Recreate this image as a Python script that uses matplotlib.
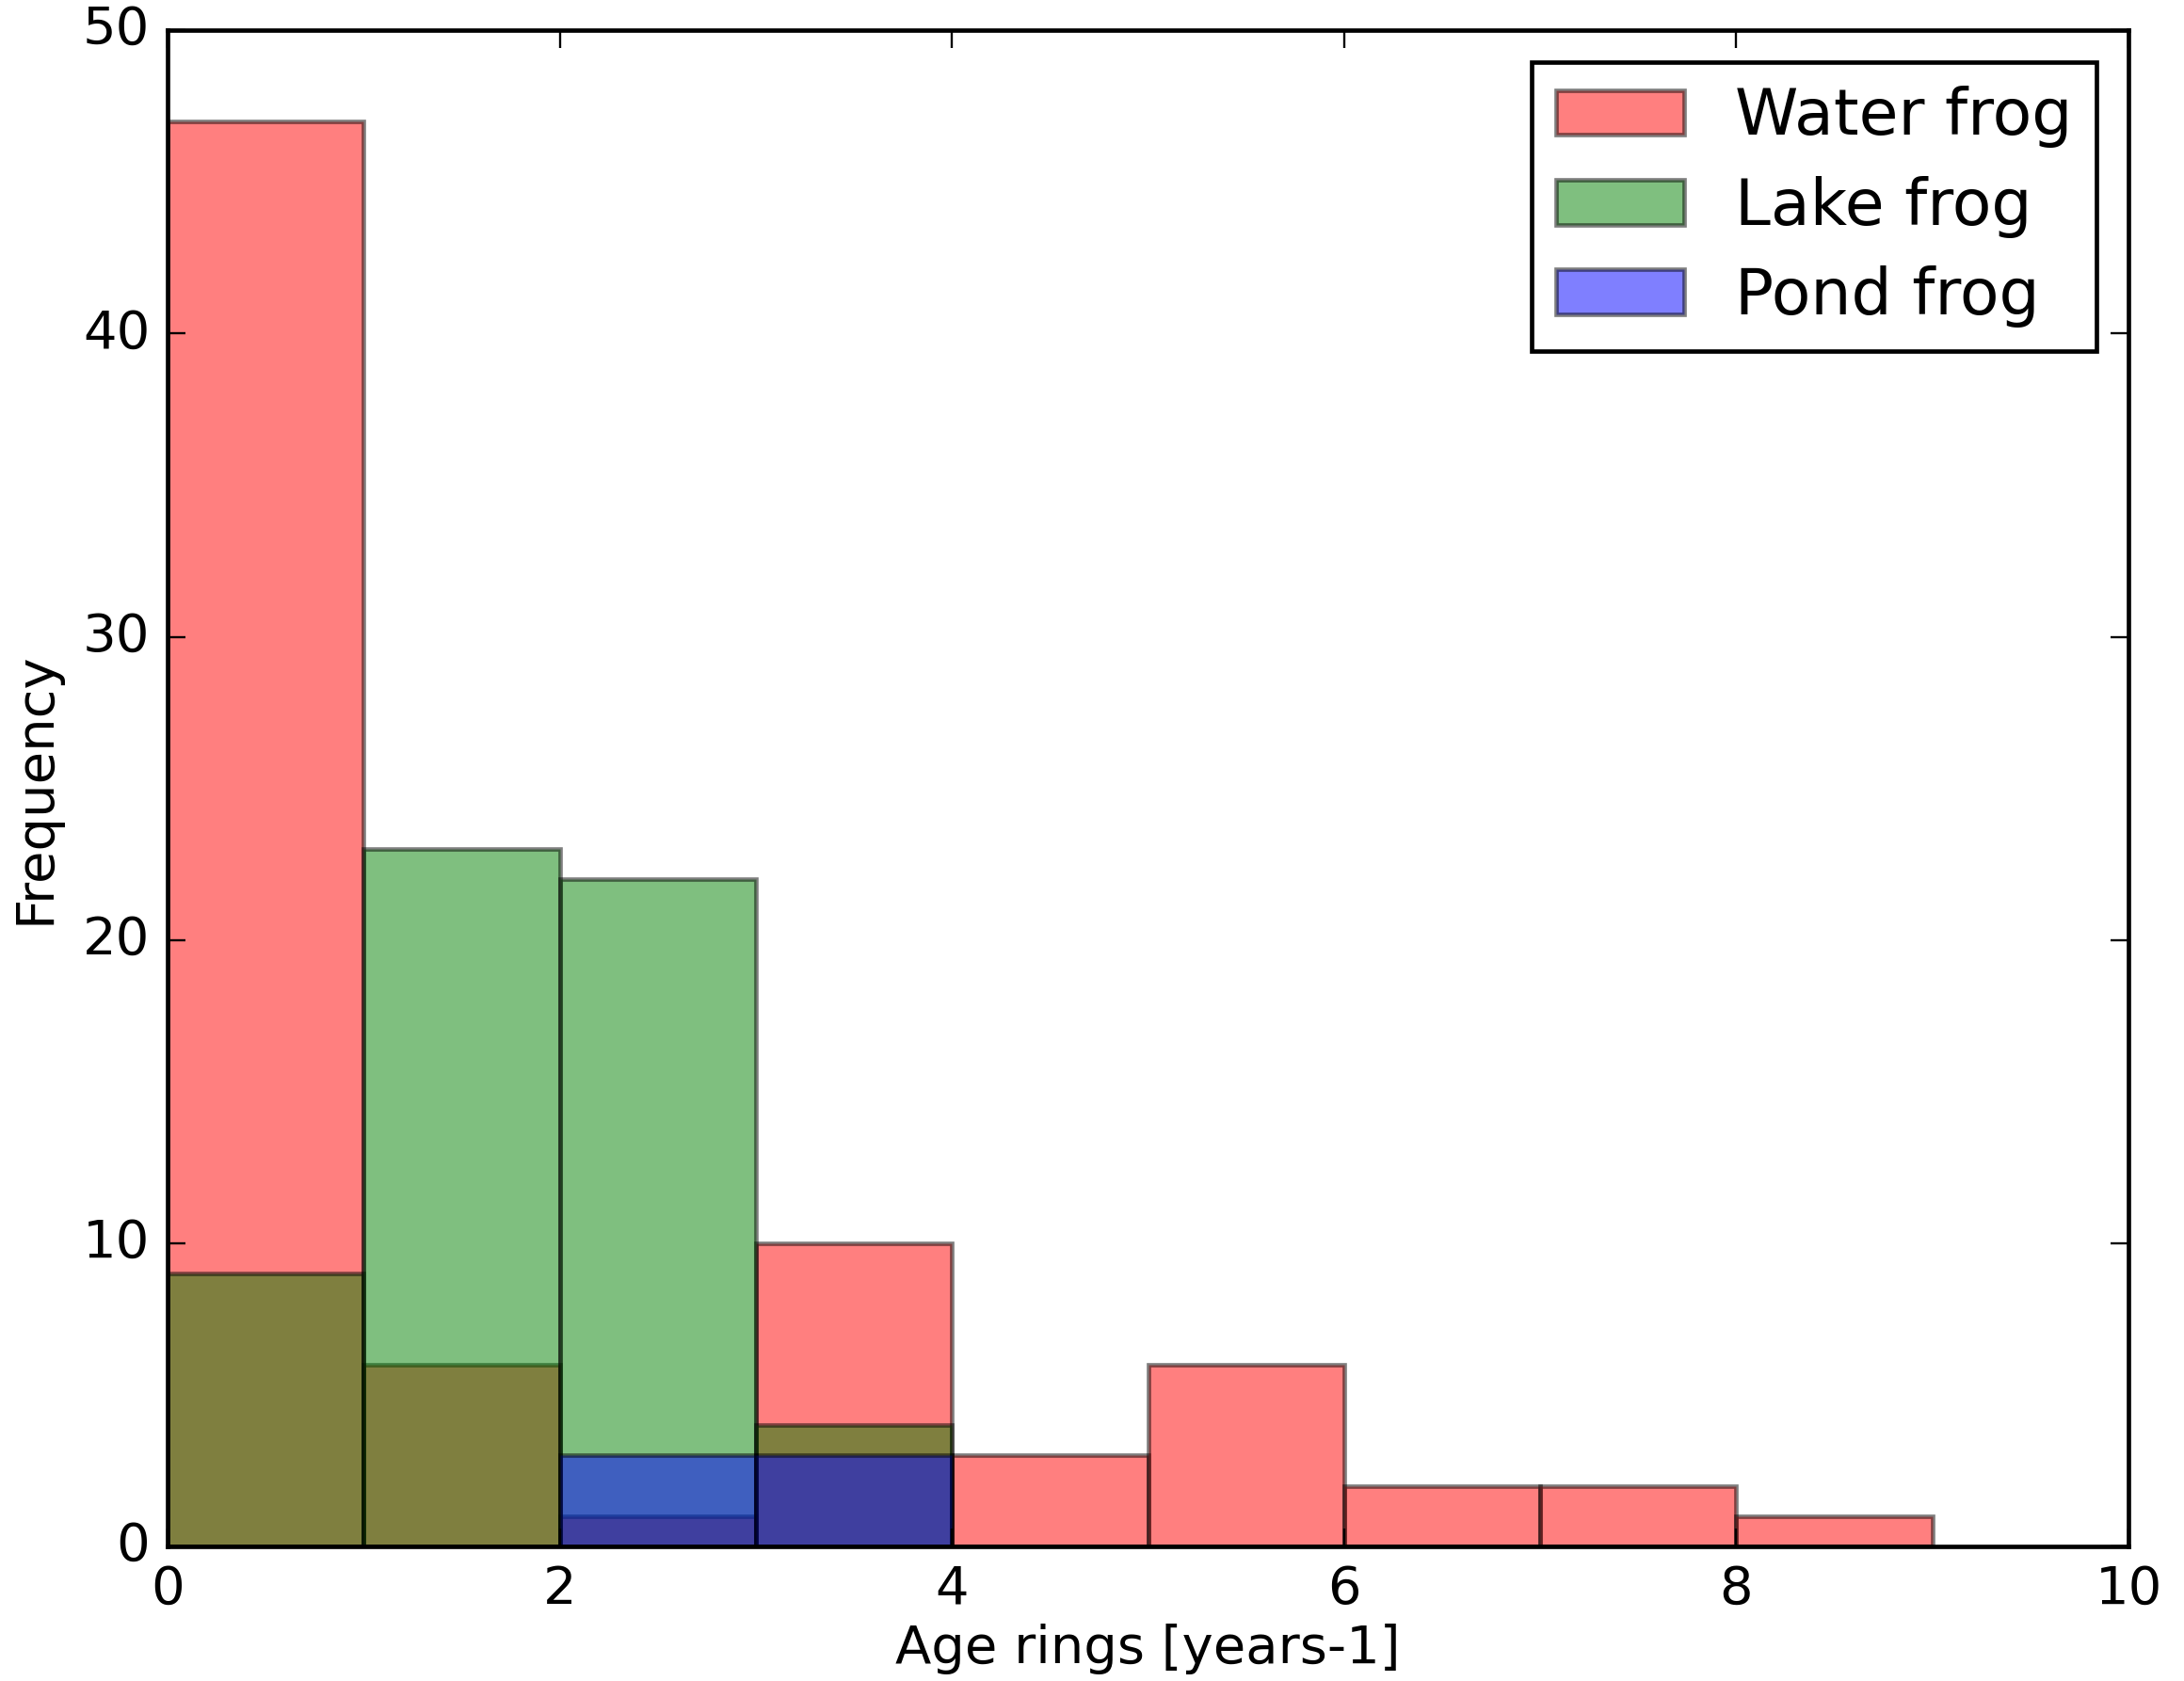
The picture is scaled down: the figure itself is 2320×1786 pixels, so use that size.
import numpy as np
import matplotlib
matplotlib.use('Agg')
import matplotlib.pyplot as plt

plt.style.use('classic')

# counts per age-ring bin (bins 0-1, 1-2, ..., 8-9)
bin_edges = np.arange(0, 10)
water_frog = [47, 6, 1, 10, 3, 6, 2, 2, 1]
lake_frog = [9, 23, 22, 4, 0, 0, 0, 0, 0]
pond_frog = [0, 0, 3, 3, 0, 0, 0, 0, 0]

series = [
    ('Water frog', water_frog, 'r'),
    ('Lake frog', lake_frog, 'g'),
    ('Pond frog', pond_frog, 'b'),
]

dpi = 336
fig = plt.figure(figsize=(2320 / dpi, 1786 / dpi), dpi=dpi, facecolor='white')
fig.subplots_adjust(left=0.0767, right=0.9746, bottom=0.080, top=0.982)
ax = fig.add_subplot(111)

centers = bin_edges[:-1] + 0.5
for label, counts, color in series:
    ax.hist(centers, bins=bin_edges, weights=counts, color=color,
            alpha=0.5, label=label)

ax.set_xlim(0, 10)
ax.set_ylim(0, 50)
ax.set_xlabel('Age rings [years-1]', labelpad=2.0)
ax.set_ylabel('Frequency')
ax.legend(loc='upper right', fontsize=14.6, labelspacing=0.43, borderpad=0.37)

fig.savefig('out.png', dpi=dpi, facecolor='white')
